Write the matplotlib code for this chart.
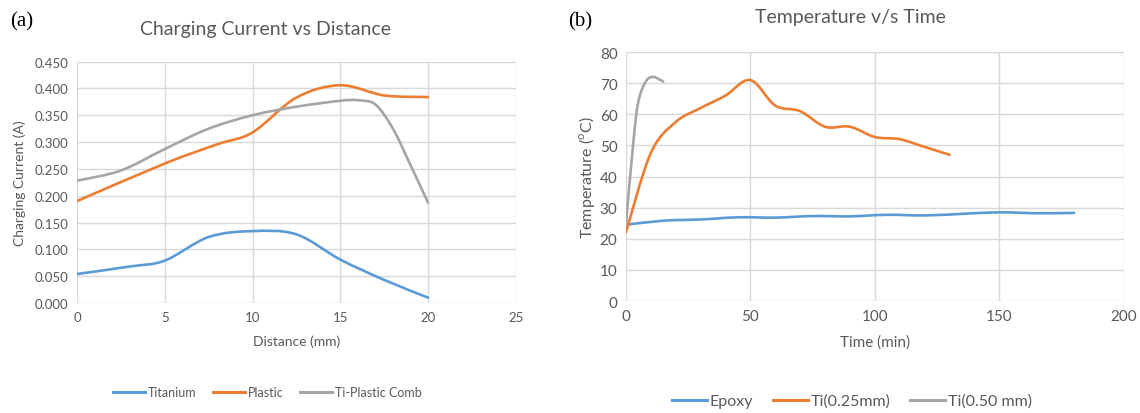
import matplotlib
matplotlib.use('Agg')
import matplotlib.pyplot as plt
from matplotlib.path import Path
from matplotlib.patches import PathPatch

plt.rcParams['font.family'] = ['Lato', 'DejaVu Sans']

# (a) charging current vs distance
dist_ti = [0, 3, 5, 7.5, 10, 12.5, 15, 17.5, 20]
cur_ti = [0.054, 0.068, 0.079, 0.123, 0.134, 0.128, 0.081, 0.043, 0.010]
dist_pl = [0, 5, 8, 10, 12.5, 15, 17.5, 20]
cur_pl = [0.190, 0.260, 0.296, 0.318, 0.383, 0.406, 0.387, 0.384]
dist_cb = [0, 2.5, 5, 7.5, 10, 12.5, 15, 16, 17, 18, 19, 20]
cur_cb = [0.228, 0.247, 0.287, 0.325, 0.350, 0.366, 0.377, 0.378, 0.370, 0.325, 0.257, 0.187]

# (b) temperature vs time
t_epoxy = [0, 15, 30, 45, 60, 75, 90, 105, 120, 135, 150, 165, 180]
temp_epoxy = [24.5, 25.8, 26.2, 26.9, 26.8, 27.3, 27.2, 27.7, 27.5, 28.0, 28.5, 28.2, 28.3]
t_ti25 = [0, 10, 20, 30, 40, 50, 60, 70, 80, 90, 100, 110, 120, 130]
temp_ti25 = [22.0, 47.5, 57.5, 62.0, 66.0, 71.0, 62.8, 61.0, 56.0, 56.0, 52.7, 52.0, 49.5, 47.0]
t_ti50 = [0, 3, 5, 8, 11, 15]
temp_ti50 = [24.5, 51.0, 64.0, 70.5, 72.0, 70.5]

BLUE = '#5B9BD5'
ORANGE = '#ED7D31'
GRAY = '#A5A5A5'
TXT = '#595959'
GRID = '#D9D9D9'


def smooth_line(ax, x, y, color, label):
    # excel-like smoothed line: cubic bezier through every point
    n = len(x)
    verts = [(x[0], y[0])]
    codes = [Path.MOVETO]
    for i in range(n - 1):
        i0 = max(i - 1, 0)
        i3 = min(i + 2, n - 1)
        c1 = (x[i] + (x[i + 1] - x[i0]) / 6, y[i] + (y[i + 1] - y[i0]) / 6)
        c2 = (x[i + 1] - (x[i3] - x[i]) / 6, y[i + 1] - (y[i3] - y[i]) / 6)
        verts += [c1, c2, (x[i + 1], y[i + 1])]
        codes += [Path.CURVE4] * 3
    ax.add_patch(PathPatch(Path(verts, codes), fill=False, edgecolor=color,
                           lw=1.9, capstyle='round', joinstyle='round'))
    ax.plot([], [], color=color, lw=2.2, label=label)


def style(ax, fs):
    for s in ax.spines.values():
        s.set_visible(False)
    ax.grid(True, color=GRID, lw=1.0)
    ax.set_axisbelow(True)
    ax.tick_params(length=0, labelsize=fs, colors=TXT, pad=6)


fig = plt.figure(figsize=(11.4, 4.14), dpi=100)

ax1 = fig.add_axes([0.0675, 0.2657, 0.385, 0.583])
smooth_line(ax1, dist_ti, cur_ti, BLUE, 'Titanium')
smooth_line(ax1, dist_pl, cur_pl, ORANGE, 'Plastic')
smooth_line(ax1, dist_cb, cur_cb, GRAY, 'Ti-Plastic Comb')
ax1.set_xlim(0, 25)
ax1.set_ylim(0, 0.45)
ax1.set_xticks(range(0, 26, 5))
ax1.set_yticks([i * 0.05 for i in range(10)])
ax1.set_yticklabels(['%.3f' % (i * 0.05) for i in range(10)])
style(ax1, 9.5)
ax1.set_xlabel('Distance (mm)', fontsize=10, color=TXT, labelpad=8)
ax1.set_ylabel('Charging Current (A)', fontsize=10, color=TXT, labelpad=6)
fig.text(265 / 1140, 1 - 30 / 414, 'Charging Current vs Distance', fontsize=14,
         color=TXT, ha='center', va='center')
fig.legend(*ax1.get_legend_handles_labels(), loc='center', ncol=3, frameon=False,
           bbox_to_anchor=(267 / 1140, 1 - 393 / 414), fontsize=9, handlelength=2.6,
           handletextpad=0.2, columnspacing=1.3, labelcolor=TXT)

ax2 = fig.add_axes([0.549, 0.2705, 0.4368, 0.6014])
smooth_line(ax2, t_epoxy, temp_epoxy, BLUE, 'Epoxy')
smooth_line(ax2, t_ti25, temp_ti25, ORANGE, 'Ti(0.25mm)')
smooth_line(ax2, t_ti50, temp_ti50, GRAY, 'Ti(0.50 mm)')
ax2.set_xlim(0, 200)
ax2.set_ylim(0, 80)
ax2.set_xticks(range(0, 201, 50))
ax2.set_yticks(range(0, 81, 10))
style(ax2, 11)
ax2.set_xlabel('Time (min)', fontsize=11, color=TXT, labelpad=8)
ax2.set_ylabel('Temperature ($^{\\mathregular{o}}$C)', fontsize=11.5, color=TXT, labelpad=2)
fig.text(850 / 1140, 1 - 17 / 414, 'Temperature v/s Time', fontsize=14,
         color=TXT, ha='center', va='center')
fig.legend(*ax2.get_legend_handles_labels(), loc='center', ncol=3, frameon=False,
           bbox_to_anchor=(852 / 1140, 1 - 402 / 414), fontsize=11.5, handlelength=2.2,
           handletextpad=0.2, columnspacing=1.2, labelcolor=TXT)

fig.text(10 / 1140, 1 - 22 / 414, '(a)', fontsize=15, family='Liberation Serif',
         ha='left', va='center')
fig.text(568 / 1140, 1 - 22 / 414, '(b)', fontsize=15, family='Liberation Serif',
         ha='left', va='center')

fig.savefig('out.png', dpi=100)
